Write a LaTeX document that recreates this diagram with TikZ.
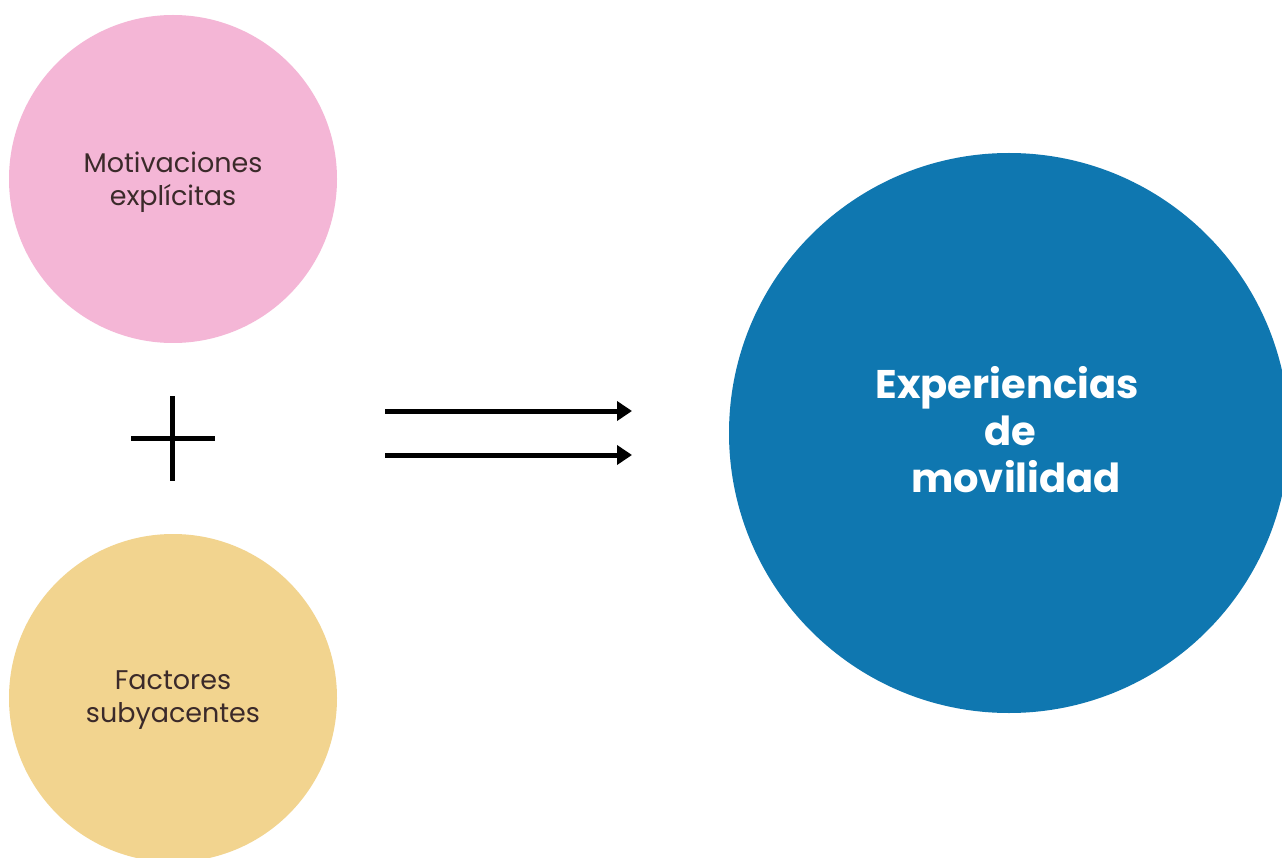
\documentclass[tikz,border=0pt]{standalone}
\usepackage{fontspec}
\setmainfont{Poppins}
\usetikzlibrary{arrows.meta}

\definecolor{pinkfill}{HTML}{F4B6D6}
\definecolor{sandfill}{HTML}{F2D48F}
\definecolor{bluefill}{HTML}{0F77B0}
\definecolor{darktext}{HTML}{3B2A2A}

\tikzset{
  bubble/.style={circle,inner sep=0,align=center,text=darktext,font=\fontsize{27}{33}\selectfont},
  bigbubble/.style={bubble,text=white,font=\fontsize{40}{47}\selectfont\bfseries},
  implies/.style={line width=5pt,-{Triangle[length=15pt,width=19pt]}},
}

\begin{document}
\begin{tikzpicture}[x=1pt,y=-1pt]

\begin{scope}

\clip (0,0) -- (1282,0) -- (1282,858) -- (0,858) -- cycle;

\fill [white] (0,0) -- (1282,0) -- (1282,858) -- (0,858) -- cycle;

\node [bubble,fill=pinkfill,minimum size=328] (motiv) at (173,179) {};
\node [bubble,fill=sandfill,minimum size=328] (factor) at (173,698) {};
\node [bubble,fill=bluefill,minimum size=560] (exper) at (1009,433) {};

\node [bubble] (motivtxt) at (173,182) {Motivaciones\\explícitas};
\node [bubble] (factortxt) at (173,700) {Factores\\subyacentes};
\node [bigbubble] (expertxt) at (1007,430) {Experiencias\\\hspace*{6pt}de\\\hspace*{18pt}movilidad};

\draw [line width=5pt] (131,438) -- (215,438);
\draw [line width=5pt] (172,396) -- (172,481);

\coordinate (upA) at (385,411);
\coordinate (upB) at (632,411);
\coordinate (loA) at (385,455);
\coordinate (loB) at (632,455);

\draw [implies] (upA) -- (upB);
\draw [implies] (loA) -- (loB);

\end{scope}

\useasboundingbox (0,0) rectangle (1282,858);

\end{tikzpicture}
\end{document}
